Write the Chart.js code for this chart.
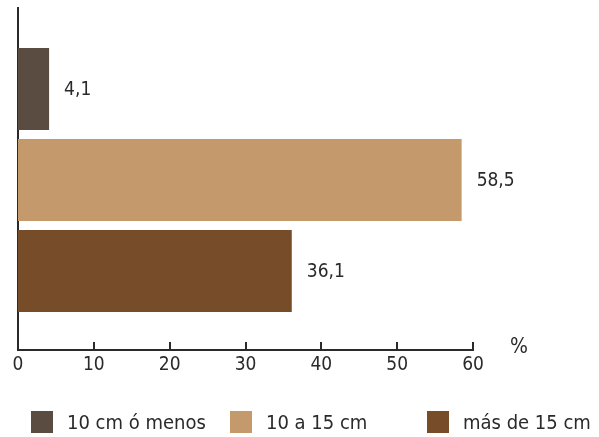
<!DOCTYPE html>
<html>
<head>
<meta charset="utf-8">
<script src="https://cdn.jsdelivr.net/npm/chart.js@4.4.1/dist/chart.umd.min.js"></script>
<style>
    html, body { margin: 0; padding: 0; background: #fff; }
    #wrap { position: relative; width: 599px; height: 437px; }
    #chart { position: absolute; left: 0; top: 0; }
    .legend-item { position: absolute; top: 410px; display: flex; align-items: center; white-space: nowrap; font-family: "DejaVu Sans", sans-serif; font-stretch: condensed; font-size: 20px; color: #2a2a2a; }
    .legend-box { width: 22px; height: 22px; margin-right: 14px; }
</style>
</head>
<body>
<div id="wrap">
    <canvas id="chart" width="599" height="437"></canvas>
</div>
<script>
// Data
const categories = ['10 cm ó menos', '10 a 15 cm', 'más de 15 cm'];
const values = [4.1, 58.5, 36.1];
const valueLabels = ['4,1', '58,5', '36,1'];
const barColors = ['#5b4c41', '#c4996c', '#764c29'];
const xTicks = [0, 10, 20, 30, 40, 50, 60];
const unitLabel = '%';

const FAMILY = '"DejaVu Sans", sans-serif';
const INK = '#2a2a2a';

// Legend HTML (posisi manual, jarak tidak rata seperti aslinya)
const legendX = [31, 230, 427];
const wrap = document.getElementById('wrap');
categories.forEach((c, i) => {
    const item = document.createElement('div');
    item.className = 'legend-item';
    item.style.left = legendX[i] + 'px';
    item.innerHTML = `<span class="legend-box" style="background:${barColors[i]}"></span><span>${c}</span>`;
    wrap.appendChild(item);
});

// Plugin: tick ke atas, label sumbu, label nilai, tanda %
const extras = {
    id: 'extras',
    afterDatasetsDraw(chart) {
        const ctx = chart.ctx;
        const xs = chart.scales.x;
        const meta = chart.getDatasetMeta(0);
        ctx.save();

        // tick marks inside the plot
        ctx.strokeStyle = INK;
        ctx.lineWidth = 2;
        xTicks.forEach(v => {
            const px = Math.round(xs.getPixelForValue(v));
            ctx.beginPath();
            ctx.moveTo(px, xs.top);
            ctx.lineTo(px, xs.top - 8);
            ctx.stroke();
        });

        ctx.fillStyle = INK;
        ctx.font = '19px ' + FAMILY;
        ctx.fontStretch = 'condensed';

        // tick labels
        ctx.textAlign = 'center';
        ctx.textBaseline = 'middle';
        xTicks.forEach(v => {
            ctx.fillText(String(v), xs.getPixelForValue(v), xs.top + 15);
        });

        // value labels
        ctx.textAlign = 'left';
        meta.data.forEach((bar, i) => {
            ctx.fillText(valueLabels[i], bar.x + 15, bar.y + 1);
        });

        // unit
        ctx.font = '21px ' + FAMILY;
        ctx.fontStretch = 'condensed';
        ctx.textAlign = 'center';
        ctx.fillText(unitLabel, xs.right + 46, xs.top - 2);
        ctx.restore();
    }
};

new Chart(document.getElementById('chart'), {
    type: 'bar',
    data: {
        datasets: [{
            data: values.map((v, i) => ({ x: v, y: i })),
            backgroundColor: barColors,
            borderWidth: 0,
            barPercentage: 0.9,
            categoryPercentage: 1
        }]
    },
    options: {
        indexAxis: 'y',
        responsive: false,
        animation: false,
        layout: { padding: { left: 10, right: 126, top: 8, bottom: 79 } },
        plugins: { legend: { display: false }, tooltip: { enabled: false } },
        scales: {
            x: {
                type: 'linear',
                min: 0,
                max: 60,
                afterBuildTicks: (axis) => { axis.ticks = xTicks.map(v => ({ value: v })); },
                grid: { display: false },
                border: { display: true, color: INK, width: 2 },
                ticks: { display: false }
            },
            y: {
                type: 'linear',
                min: -0.89,
                max: 2.868,
                reverse: true,
                offset: false,
                afterBuildTicks: (axis) => { axis.ticks = values.map((v, i) => ({ value: i })); },
                grid: { display: false },
                border: { display: true, color: INK, width: 2 },
                ticks: { display: false }
            }
        }
    },
    plugins: [extras]
});
</script>
</body>
</html>
